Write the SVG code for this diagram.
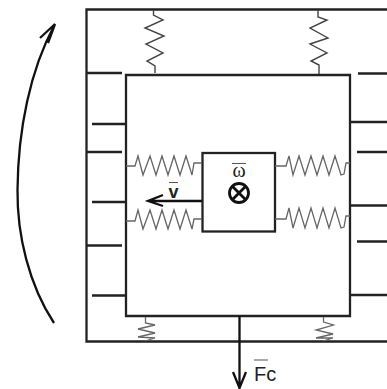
<svg xmlns="http://www.w3.org/2000/svg" width="387" height="389" viewBox="0 0 387 389">
<style>
.w{fill:none;stroke:#222;stroke-width:2.300}
.s{fill:none;stroke:#666;stroke-width:1.300}
.d{fill:none;stroke:#444;stroke-width:1.400}
.t{stroke:#222;stroke-width:2.300}
.a{fill:none;stroke:#111;stroke-width:2.300}
.o{stroke:#555;stroke-width:1}
.c{fill:none;stroke:#111;stroke-width:2.800}
</style>
<rect width="387" height="389" fill="#fff"/>
<g id="outer-frame">
<path class="w" d="M387 9.500H86.500V341.500H387"/>
<path class="t" d="M86 73H122M92 124H126M86 152H122M92 202H126M86 245.500H122M92 295.500H126"/>
<path class="t" d="M358 73.500H387M350 122H387M357 152H387M350 205.500H387M357 241.500H387M350 295H387"/>
</g>
<g id="inner-frame"><path class="w" d="M126 75H350V316H126Z"/></g>
<g id="mass">
<rect class="w" x="202.500" y="153" width="72.500" height="78.500"/>
<line class="o" x1="232" y1="163.500" x2="246" y2="163.500"/>
<text x="239" y="176.500" text-anchor="middle" font-family="'Liberation Serif',serif" font-size="20" fill="#222">ω</text>
<circle class="c" cx="239" cy="193" r="9.500"/>
<path class="c" d="M232.300 186.300L245.700 199.700M245.700 186.300L232.300 199.700"/>
</g>
<g id="connectors">
<path class="d" d="M153.500 10V15L163 20L145 28L164 36L146 44L163 53L147 61L155 66V73"/>
<path class="d" d="M318 10V17L327 20L310 28L328 38L310 44L327 53L311 61L319 65V74"/>
<path class="s" d="M126 166H135L138 156L143 175L150 156L156 175L162 156L168 175L174 156L180 175L186 156L192 175L194 163H202"/>
<path class="s" d="M126 221H135L138 210L143 229L150 210L156 229L162 210L168 229L174 210L180 229L186 210L192 229L194 219H202"/>
<path class="s" d="M275 166H286L289 156L293 175L299 156L305 175L311 156L317 175L323 156L329 175L335 156L341 175L344 174L346 163H350"/>
<path class="s" d="M275 219H286L289 208L293 228L299 208L305 228L311 208L317 228L323 208L329 228L335 208L341 228L344 227L346 216H350"/>
<path class="s" d="M145.500 317V323L155 325L138 329L155 333L138 337L155 338L145 341"/>
<path class="s" d="M323.500 317V322L333.500 325L316 330L333 334L316 338L333 338L323 341"/>
<path class="a" d="M202 201H148M163 195L148 201L163 206"/>
<path class="a" d="M239.500 316V388M233 372L239.500 388L246 372"/>
<path class="a" d="M54 323C29 285 17 235 17.500 190C18 130 30 70 55 24M40 38L55 24L48 43"/>
</g>
<g id="labels">
<line class="o" x1="169" y1="182.500" x2="178" y2="182.500"/>
<text x="173.500" y="197.500" text-anchor="middle" font-family="'Liberation Sans',sans-serif" font-size="18" font-weight="bold" fill="#222">v</text>
<line class="o" x1="254" y1="360" x2="268" y2="360"/>
<text x="254" y="381" font-family="'Liberation Sans',sans-serif" font-size="20" fill="#222">Fc</text>
</g>
</svg>
